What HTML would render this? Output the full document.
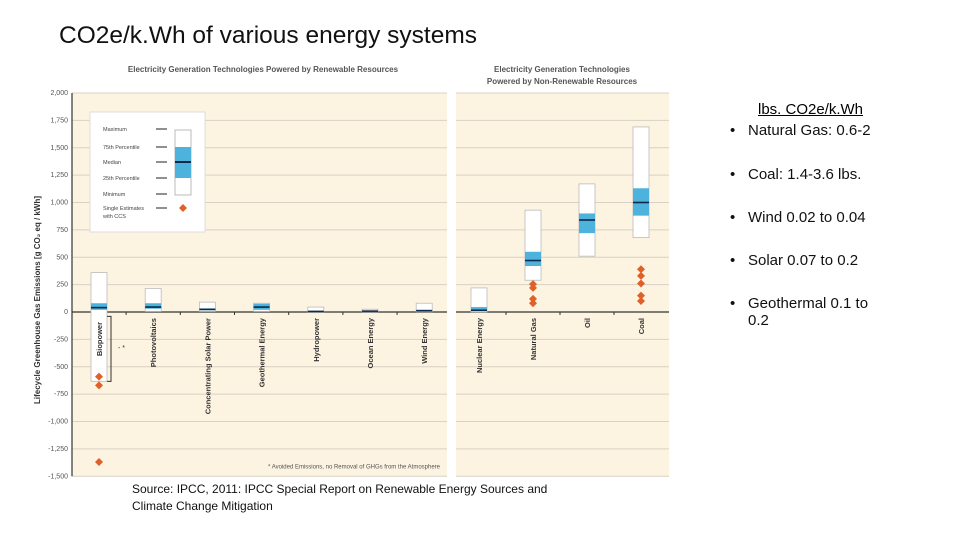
<!DOCTYPE html>
<html><head><meta charset="utf-8"><style>
body{margin:0;width:960px;height:540px;background:#fff;font-family:"Liberation Sans",sans-serif;position:relative;overflow:hidden}
.t{position:absolute}
ul{margin:0;padding:0;list-style:none}
li{position:absolute;left:730px;font-size:15px;color:#111}
li:before{content:"•";position:absolute;left:0}
li span{position:absolute;left:18px;white-space:nowrap}
</style></head><body>
<div class="t" style="left:59px;top:22px;font-size:24.5px;color:#111">CO2e/k.Wh of various energy systems</div>
<svg width="960" height="540" style="position:absolute;left:0;top:0">
<g id="g"></g></svg>
<div class="t" style="left:758px;top:101px;font-size:15px;text-decoration:underline">lbs. CO2e/k.Wh</div>
<ul>
<li style="top:122px"><span>Natural Gas: 0.6-2</span></li>
<li style="top:166px"><span>Coal: 1.4-3.6 lbs.</span></li>
<li style="top:209px"><span>Wind 0.02 to 0.04</span></li>
<li style="top:252px"><span>Solar 0.07 to 0.2</span></li>
<li style="top:295px"><span>Geothermal 0.1 to<br>0.2</span></li>
</ul>
<div class="t" style="left:132px;top:481px;font-size:12px;line-height:17px;color:#111">Source: IPCC, 2011: IPCC Special Report on Renewable Energy Sources and<br>Climate Change Mitigation</div>
<script>
const categories=["Biopower","Photovoltaics","Concentrating Solar Power","Geothermal Energy","Hydropower","Ocean Energy","Wind Energy","Nuclear Energy","Natural Gas","Oil","Coal"];
const mins=[-633,5,5,5,1,2,2,1,290,510,680];
const q1s=[20,30,15,20,3,5,8,8,420,720,880];
const medians=[40,45,25,45,5,8,12,16,470,840,1000];
const q3s=[80,80,30,75,10,12,20,45,550,900,1130];
const maxs=[360,215,90,80,45,25,80,220,930,1170,1690];
const ccsPoints=[[-590,-670,-1370],[],[],[],[],[],[],[],[80,120,220,255],[],[100,150,260,330,390]];
const yTicks=[2000,1750,1500,1250,1000,750,500,250,0,-250,-500,-750,-1000,-1250,-1500];
const yTickLabels=["2,000","1,750","1,500","1,250","1,000","750","500","250","0","-250","-500","-750","-1,000","-1,250","-1,500"];
const g=document.getElementById('g');const NS="http://www.w3.org/2000/svg";
function y(v){return 312-v*0.1095;}
function x(i){return i<7?99+i*54.2:479+(i-7)*54;}
function el(t,a,txt){const e=document.createElementNS(NS,t);for(const k in a)e.setAttribute(k,a[k]);if(txt!==undefined)e.textContent=txt;g.appendChild(e);return e;}
let e;
e=el('rect',{x:72,y:y(2000),width:375,height:y(-1500)-y(2000),fill:'#fcf3e1'});
e=el('rect',{x:456,y:y(2000),width:213,height:y(-1500)-y(2000),fill:'#fcf3e1'});
yTicks.forEach((v,i)=>{
 if(v!==0){el('line',{x1:72,x2:447,y1:y(v),y2:y(v),stroke:'#d8d2c4','stroke-width':1});el('line',{x1:456,x2:669,y1:y(v),y2:y(v),stroke:'#d8d2c4','stroke-width':1});}
 e=el('text',{x:68,y:y(v)+2,'font-size':7,'text-anchor':'end',fill:'#555'},yTickLabels[i]);
});
el('line',{x1:72,x2:72,y1:y(2000),y2:y(-1500),stroke:'#333','stroke-width':1.2});
el('line',{x1:72,x2:447,y1:y(0),y2:y(0),stroke:'#333','stroke-width':1.2});
el('line',{x1:456,x2:669,y1:y(0),y2:y(0),stroke:'#333','stroke-width':1.2});
e=el('text',{x:40,y:300,'font-size':8,'font-weight':'bold',fill:'#333','text-anchor':'middle',transform:'rotate(-90 40 300)'},'Lifecycle Greenhouse Gas Emissions [g CO₂ eq / kWh]');
e=el('text',{x:263,y:72,'font-size':8,'font-weight':'bold',fill:'#555','text-anchor':'middle'},'Electricity Generation Technologies Powered by Renewable Resources');
e=el('text',{x:562,y:72,'font-size':8,'font-weight':'bold',fill:'#555','text-anchor':'middle'},'Electricity Generation Technologies');
el('text',{x:562,y:84,'font-size':8,'font-weight':'bold',fill:'#555','text-anchor':'middle'},'Powered by Non-Renewable Resources');
categories.forEach((c,i)=>{
 const cx=x(i),w=16;
 e=el('rect',{x:cx-w/2,y:y(maxs[i]),width:w,height:y(mins[i])-y(maxs[i]),fill:'#fff',stroke:'#bbb','stroke-width':0.8});
 el('rect',{x:cx-w/2,y:y(q3s[i]),width:w,height:Math.max(1,y(q1s[i])-y(q3s[i])),fill:'#4db3dd'});
 el('line',{x1:cx-w/2,x2:cx+w/2,y1:y(medians[i]),y2:y(medians[i]),stroke:'#0d2a4a','stroke-width':1.6});
 ccsPoints[i].forEach(p=>{e=el('path',{d:`M${cx} ${y(p)-4}L${cx+4} ${y(p)}L${cx} ${y(p)+4}L${cx-4} ${y(p)}Z`,fill:'#e0602a'});});
 if(i>0&&i!==7){const tx=(x(i)+x(i-1))/2;el('line',{x1:tx,x2:tx,y1:y(0),y2:y(0)+3,stroke:'#333'});}
 const ly=i===0?322:318;
 e=el('text',{x:cx+3,y:ly,'font-size':7.5,'font-weight':'bold',fill:'#333','text-anchor':'end',transform:`rotate(-90 ${cx+3} ${ly})`},c);
});
el('path',{d:`M107 ${y(-40)}H111V${y(-633)}H107`,fill:'none',stroke:'#333'});
el('text',{x:118,y:y(-320)+3,'font-size':7,fill:'#333'},'- *');
el('text',{x:440,y:y(-1430),'font-size':6,fill:'#555','text-anchor':'end'},'* Avoided Emissions, no Removal of GHGs from the Atmosphere');
e=el('rect',{x:90,y:112,width:115,height:120,fill:'#fff',stroke:'#ddd'});
const ln=[["Maximum",129],["75th Percentile",147],["Median",162],["25th Percentile",178],["Minimum",194],["Single Estimates",208]];
ln.forEach(([t,yy])=>{el('text',{x:103,y:yy+2,'font-size':5.5,fill:'#444'},t);el('line',{x1:156,x2:167,y1:yy,y2:yy,stroke:'#222','stroke-width':1});});
el('text',{x:103,y:218,'font-size':5.5,fill:'#444'},'with CCS');
el('rect',{x:175,y:130,width:16,height:65,fill:'#fff',stroke:'#bbb'});
el('rect',{x:175,y:147,width:16,height:31,fill:'#4db3dd'});
el('line',{x1:175,x2:191,y1:162,y2:162,stroke:'#0d2a4a','stroke-width':2});
el('path',{d:'M183 204L187 208L183 212L179 208Z',fill:'#e0602a'});
</script>
</body></html>
